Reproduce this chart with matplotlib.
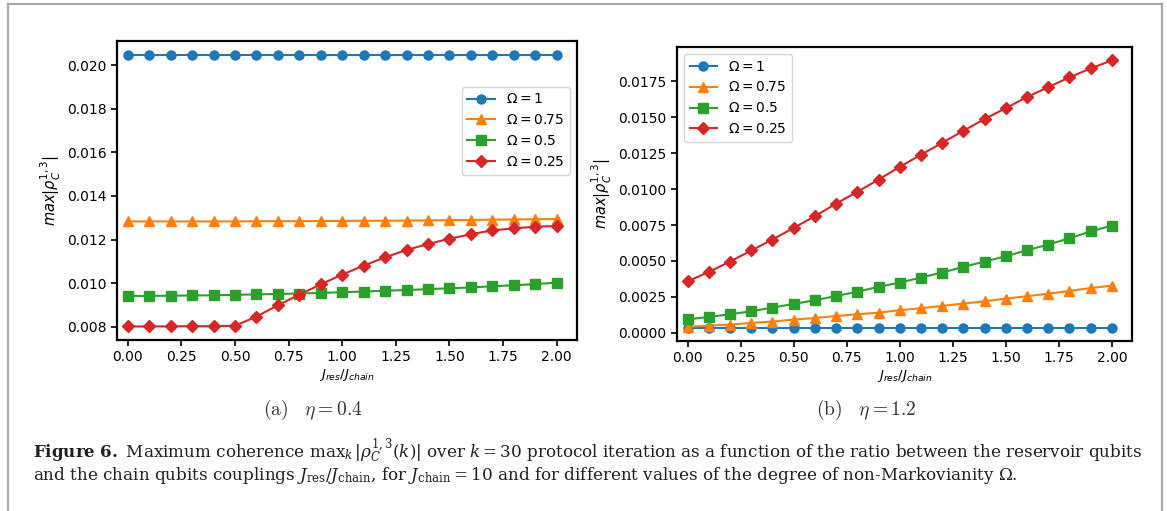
import numpy as np
import matplotlib
matplotlib.use("Agg")
import matplotlib.pyplot as plt
from matplotlib.lines import Line2D

# ratio J_res / J_chain
ratio = np.round(np.arange(0, 2.01, 0.1), 2)

omega_labels = [r"$\Omega = 1$", r"$\Omega = 0.75$", r"$\Omega = 0.5$", r"$\Omega = 0.25$"]
markers = ["o", "^", "s", "D"]

# (a) eta = 0.4
a_om1 = [0.02049] * 21
a_om075 = [0.01283, 0.01283, 0.01283, 0.01283, 0.01283, 0.01283, 0.01284, 0.01284,
           0.01284, 0.01285, 0.01285, 0.01286, 0.01286, 0.01287, 0.01288, 0.01289,
           0.0129, 0.01291, 0.01292, 0.01293, 0.01294]
a_om05 = [0.00941, 0.00941, 0.00942, 0.00943, 0.00944, 0.00946, 0.00948, 0.0095,
          0.00952, 0.00955, 0.00958, 0.00961, 0.00965, 0.00968, 0.00972, 0.00976,
          0.0098, 0.00985, 0.0099, 0.00995, 0.01002]
a_om025 = [0.00801, 0.00801, 0.00801, 0.00802, 0.00802, 0.00804, 0.00846, 0.00898,
           0.00947, 0.00994, 0.01039, 0.0108, 0.01118, 0.01152, 0.01179, 0.01204,
           0.01224, 0.01242, 0.01251, 0.01259, 0.01262]

# (b) eta = 1.2
b_om1 = [0.00037] * 21
b_om075 = [0.00042, 0.00051, 0.00058, 0.0007, 0.00079, 0.00093, 0.00104, 0.00118,
           0.0013, 0.00141, 0.00158, 0.00172, 0.00188, 0.00204, 0.0022, 0.00239,
           0.00255, 0.00273, 0.00292, 0.00312, 0.00329]
b_om05 = [0.00095, 0.00111, 0.0013, 0.00151, 0.00176, 0.00202, 0.00227, 0.00257,
          0.00287, 0.0032, 0.0035, 0.00385, 0.0042, 0.00459, 0.00496, 0.00533,
          0.00575, 0.00614, 0.00658, 0.00705, 0.00746]
b_om025 = [0.00359, 0.00424, 0.00496, 0.00573, 0.00649, 0.0073, 0.00811, 0.00899,
           0.0098, 0.01066, 0.01154, 0.01238, 0.01321, 0.01405, 0.01486, 0.01562,
           0.01639, 0.01708, 0.01776, 0.01838, 0.01894]


def draw_panel(ax, series, legend_kw):
    for ys, lab, m in zip(series, omega_labels, markers):
        ax.plot(ratio, ys, marker=m, markersize=6.5, linewidth=1.5, label=lab)
    ax.set_xlim(-0.05, 2.095)
    ax.set_xticks([0, 0.25, 0.5, 0.75, 1.0, 1.25, 1.5, 1.75, 2.0])
    ax.set_xlabel(r"$J_{res}/J_{chain}$", fontsize=9.5, labelpad=2)
    ax.set_ylabel(r"$max|\rho_C^{1,3}|$", fontsize=10.5, labelpad=3)
    ax.tick_params(labelsize=10, width=1.2, length=4)
    for s in ax.spines.values():
        s.set_linewidth(1.6)
    ax.legend(fontsize=10, **legend_kw)


fig = plt.figure(figsize=(11.67, 5.11), dpi=100)

ax1 = fig.add_axes([117 / 1167, 171 / 511, 460 / 1167, 299 / 511])
draw_panel(ax1, [a_om1, a_om075, a_om05, a_om025],
           dict(loc="upper right", bbox_to_anchor=(1.0, 0.87)))

ax2 = fig.add_axes([677 / 1167, 170 / 511, 455 / 1167, 294 / 511])
draw_panel(ax2, [b_om1, b_om075, b_om05, b_om025], dict(loc="upper left"))

# sub captions
fig.text(313 / 1167, 1 - 410 / 511, r"$\mathrm{(a)}\quad \eta = 0.4$", ha="center", va="center",
         fontsize=14, math_fontfamily="cm", color="#333333")
fig.text(866 / 1167, 1 - 410 / 511, r"$\mathrm{(b)}\quad \eta = 1.2$", ha="center", va="center",
         fontsize=14, math_fontfamily="cm", color="#333333")

# figure caption
cap1 = (r"$\mathbf{Figure\ 6.}$ Maximum coherence $\mathrm{max}_k\,|\rho_C^{1,3}(k)|$ over $k = 30$ "
        "protocol iteration as a function of the ratio between the reservoir qubits")
cap2 = (r"and the chain qubits couplings $J_\mathrm{res}/J_\mathrm{chain}$, for $J_\mathrm{chain} = 10$ "
        r"and for different values of the degree of non-Markovianity $\Omega$.")
cap_kw = dict(ha="left", va="baseline", fontsize=12, family="DejaVu Serif",
              math_fontfamily="dejavuserif", color="#231f20")
t1 = fig.text(33 / 1167, 1 - 458 / 511, cap1, **cap_kw)
t2 = fig.text(33 / 1167, 1 - 480 / 511, cap2, **cap_kw)

# fit the first caption line to the width used in the page
renderer = fig.canvas.get_renderer()
w = t1.get_window_extent(renderer).width
size = 12 * 1103 / w
t1.set_fontsize(size)
t2.set_fontsize(size)

# grey page frame
frame_kw = dict(color="#aaaaaa", linewidth=1.6, transform=fig.transFigure)
fig.add_artist(Line2D([8 / 1167, 8 / 1167], [0, 1 - 4 / 511], **frame_kw))
fig.add_artist(Line2D([8 / 1167, 1162 / 1167], [1 - 4 / 511, 1 - 4 / 511], **frame_kw))
fig.add_artist(Line2D([1162 / 1167, 1162 / 1167], [0, 1 - 4 / 511], **frame_kw))

fig.savefig("out.png", dpi=100)
